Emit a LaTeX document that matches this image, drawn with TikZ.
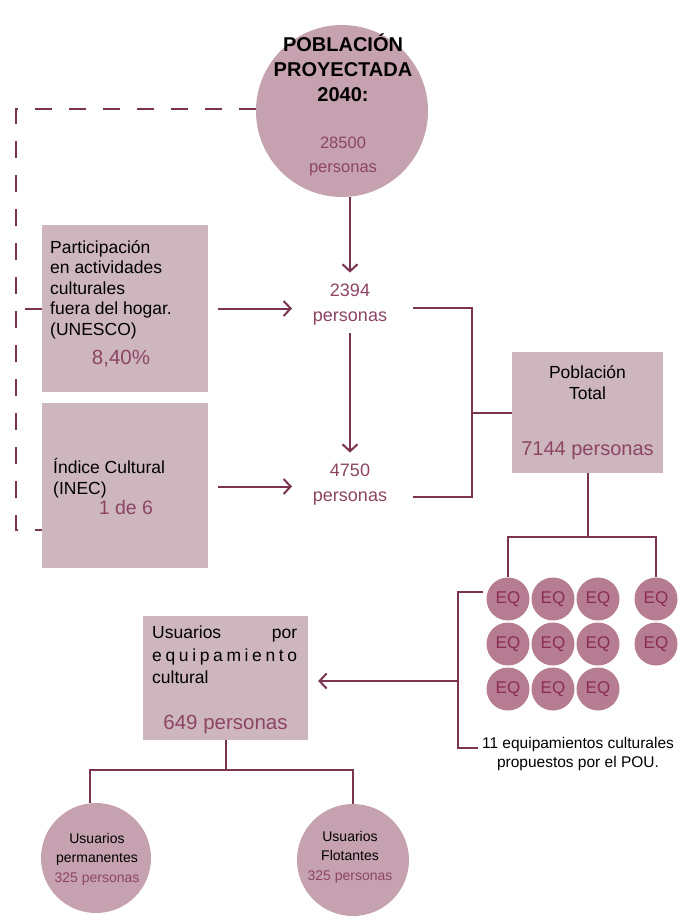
\documentclass[tikz,border=0pt]{standalone}
\usepackage{fontspec}
\setmainfont{Liberation Sans}
\usetikzlibrary{arrows.meta}

\definecolor{linec}{HTML}{7A3452}
\definecolor{boxc}{HTML}{CEB6BF}
\definecolor{circc}{HTML}{C6A2B0}
\definecolor{eqc}{HTML}{B67D92}
\definecolor{eqtext}{HTML}{8A2D50}
\definecolor{numc}{HTML}{8C4563}

\tikzset{
  link/.style={draw=linec, line width=2pt},
  arr/.style={link, -{Straight Barb[length=7pt,width=15pt,line width=2pt]}},
  dashlink/.style={link, line width=1.8pt, dash pattern=on 17pt off 17pt},
  databox/.style={rectangle, fill=boxc, draw=none, inner sep=0},
  bigdisc/.style={circle, fill=circc, draw=none, inner sep=0},
  eq/.style={circle, fill=eqc, draw=none, inner sep=0, minimum size=43pt,
    text=eqtext, font=\fontsize{17}{17}\selectfont},
  txt/.style={inner sep=0, text=black},
  num/.style={inner sep=0, text=numc},
}

\begin{document}
\begin{tikzpicture}[x=1pt,y=-1pt]
\fill[white] (0,0) rectangle (678,918);
\useasboundingbox (0,0) rectangle (678,918);

% --- projected population ---
\node[bigdisc, minimum size=172pt] (circ) at (342,111) {};
\node[txt, anchor=north, align=center, font=\fontsize{20}{25}\selectfont\bfseries] (title) at (343,33.5)
  {POBLACIÓN\\PROYECTADA\\2040:};
\node[num, anchor=north, align=center, font=\fontsize{16.5}{24}\selectfont] (total) at (343,137.1)
  {28500\\personas};

% --- source indicators ---
\node[databox, minimum width=166pt, minimum height=167pt] (box1) at (125,308.5) {};
\node[txt, anchor=north west, align=left, font=\fontsize{17.5}{20.5}\selectfont] (t1) at (50,240.4)
  {Participación\\en actividades\\culturales\\fuera del hogar.\\(UNESCO)};
\node[num, anchor=base, font=\fontsize{20.5}{20.5}\selectfont] (pct) at (121,364.3) {8,40\%};

\node[databox, minimum width=166pt, minimum height=165pt] (box2) at (125,485.5) {};
\node[txt, anchor=north west, align=left, font=\fontsize{17.5}{21}\selectfont] (t2) at (53,458)
  {Índice Cultural\\(INEC)};
\node[num, anchor=base, font=\fontsize{19.5}{19.5}\selectfont] (ratio) at (126,514) {1 de 6};

% --- intermediate results ---
\node[num, anchor=north, align=center, font=\fontsize{18}{25}\selectfont] (n2394) at (350,283.6)
  {2394\\personas};
\node[num, anchor=north, align=center, font=\fontsize{18}{25}\selectfont] (n4750) at (350,463.6)
  {4750\\personas};

\coordinate (tipA) at (292,308.5);
\coordinate (tipB) at (292,486.5);
\draw[arr] ([xshift=10pt]box1.east) -- (tipA);
\draw[arr] ([xshift=10pt,yshift=-1pt]box2.east) -- (tipB);
\draw[arr] (circ.south -| n2394.north) -- ([yshift=11pt]n2394.north);
\draw[arr] ([yshift=-8pt]n2394.south) -- ([yshift=11pt]n4750.north);

% dashed link from the projection to both indicators
\coordinate (dashA) at (16,109);
\coordinate (dashB) at (16,530);
\draw[dashlink] (circ.west |- dashA) -- (dashA) -- (dashB) -- (box2.west |- dashB);
\draw[link] ([xshift=-17pt]box1.west) -- (box1.west);

% --- total population ---
\node[databox, minimum width=151pt, minimum height=121pt] (box3) at (587.5,412.5) {};
\node[txt, anchor=north, align=center, font=\fontsize{17.5}{21}\selectfont] (t3) at (587.5,365.4)
  {Población\\Total};
\node[num, anchor=base, font=\fontsize{20}{20}\selectfont] (n7144) at (587.5,455) {7144 personas};

\coordinate (brTop) at (413,308);
\coordinate (brBot) at (413,497);
\coordinate (brX) at (472,412.5);
\draw[link] (brTop) -| (brX) |- (brBot);
\draw[link] (brX) -- (box3.west);

% --- cultural facilities ---
\node[eq] (eq1) at (508,599) {EQ};
\node[eq] (eq2) at (553,599) {EQ};
\node[eq] (eq3) at (598,599) {EQ};
\node[eq] (eq4) at (656,599) {EQ};
\node[eq] (eq5) at (508,644) {EQ};
\node[eq] (eq6) at (553,644) {EQ};
\node[eq] (eq7) at (598,644) {EQ};
\node[eq] (eq8) at (656,644) {EQ};
\node[eq] (eq9) at (508,689) {EQ};
\node[eq] (eq10) at (553,689) {EQ};
\node[eq] (eq11) at (598,689) {EQ};

\coordinate (eqBar) at (587.5,537);
\draw[link] (box3.south) -- (eqBar);
\draw[link] (eq1.north) -- (eq1.north |- eqBar) -- (eq4.north |- eqBar) -- (eq4.north);

\node[txt, anchor=north, align=center, font=\fontsize{15.5}{19}\selectfont] (eqnote) at (578,737)
  {11 equipamientos culturales\\propuestos por el POU.};

\coordinate (eqBrT) at (483,592);
\coordinate (eqBrB) at (478,748);
\coordinate (eqBrX) at (458,681);
\draw[link] (eqBrT) -| (eqBrX) |- (eqBrB);

% --- users per facility ---
\node[databox, minimum width=165pt, minimum height=124pt] (box4) at (225.5,678) {};
\node[txt, anchor=north west, align=left, font=\fontsize{17.5}{22.5}\selectfont] (t4) at (152,625.7)
  {\hbox to 145pt{Usuarios\hfill por}\\
   \hbox to 145pt{e\hfill q\hfill u\hfill i\hfill p\hfill a\hfill m\hfill i\hfill e\hfill n\hfill t\hfill o}\\
   cultural};
\node[num, anchor=base, font=\fontsize{20.5}{20.5}\selectfont] (n649) at (225.5,729.3) {649 personas};
\draw[arr] (eqBrX) -- ([xshift=10pt]box4.east |- eqBrX);

\node[bigdisc, minimum size=110pt] (us1) at (96,858) {};
\node[bigdisc, minimum size=112pt] (us2) at (353,860) {};
\node[txt, anchor=north, align=center, font=\fontsize{14}{19.5}\selectfont] (t5) at (97,833)
  {Usuarios\\permanentes\\\textcolor{numc}{325 personas}};
\node[txt, anchor=north, align=center, font=\fontsize{14}{19.5}\selectfont] (t6) at (350,831)
  {Usuarios\\Flotantes\\\textcolor{numc}{325 personas}};

\coordinate (usBar) at (225.5,770);
\draw[link] (box4.south) -- (usBar);
\draw[link] ([xshift=-6pt]us1.north) -- ([xshift=-6pt]us1.north |- usBar) -- (us2.north |- usBar) -- (us2.north);
\end{tikzpicture}
\end{document}
